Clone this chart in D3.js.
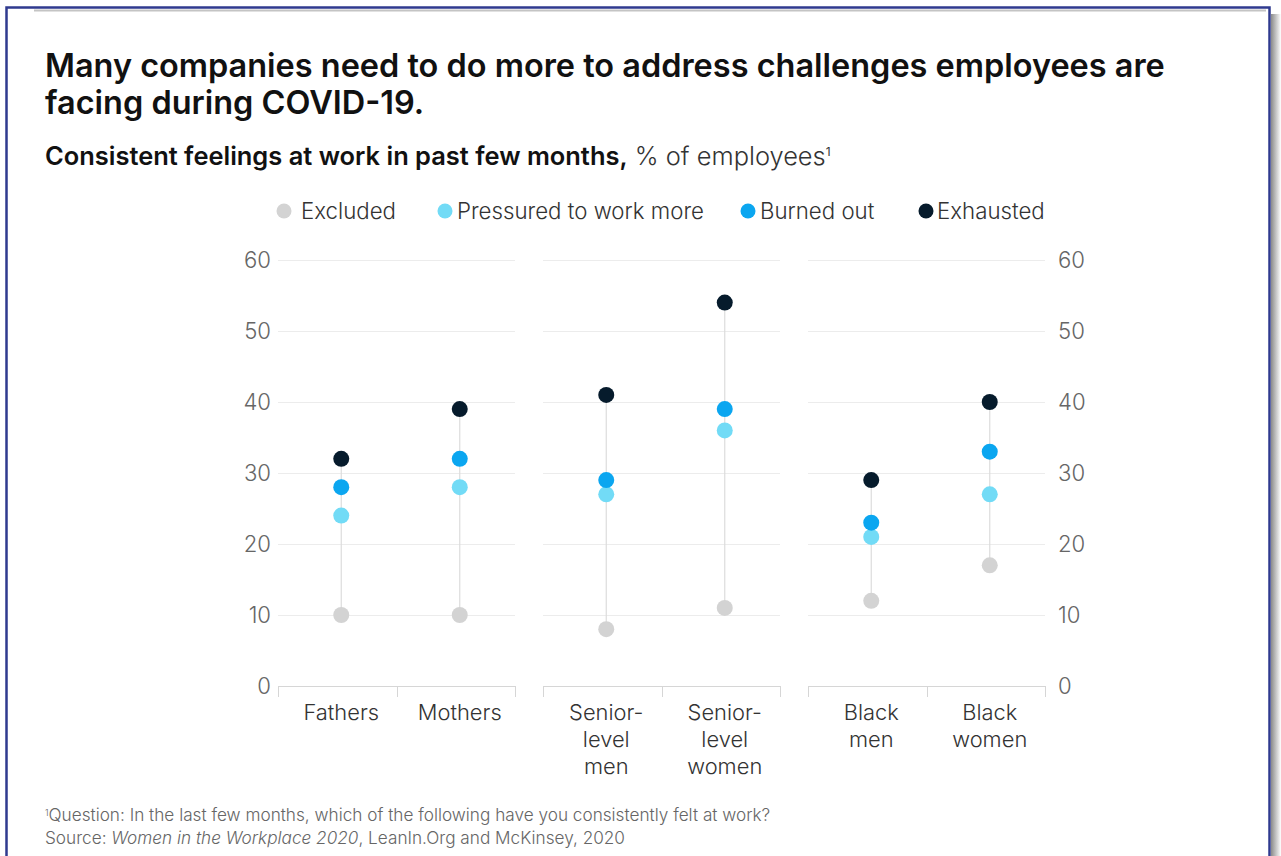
<!DOCTYPE html>
<html>
<head>
<meta charset="utf-8">
<script src="https://cdn.jsdelivr.net/npm/d3@7"></script>
<style>
  html, body { margin: 0; padding: 0; background: #fff; }
  svg { display: block; }
  text { font-family: Inter, "Liberation Sans", Arial, sans-serif; }
</style>
</head>
<body>
<svg id="chart" width="1281" height="856"></svg>
<script>
// Categories, grouped into three panels
const categories = ["Fathers", "Mothers", "Senior-level men", "Senior-level women", "Black men", "Black women"];
const categoryLines = [["Fathers"], ["Mothers"], ["Senior-", "level", "men"], ["Senior-", "level", "women"], ["Black", "men"], ["Black", "women"]];
const panels = [["Fathers", "Mothers"], ["Senior-level men", "Senior-level women"], ["Black men", "Black women"]];

// Series (% of employees)
const seriesNames = ["Excluded", "Pressured to work more", "Burned out", "Exhausted"];
const excluded  = [10, 10, 8, 11, 12, 17];
const pressured = [24, 28, 27, 36, 21, 27];
const burnedOut = [28, 32, 29, 39, 23, 33];
const exhausted = [32, 39, 41, 54, 29, 40];
const seriesValues = [excluded, pressured, burnedOut, exhausted];
const seriesColors = ["#d3d3d3", "#72dbf6", "#0ba6f0", "#061b2c"];

const yTicks = [0, 10, 20, 30, 40, 50, 60];

const svg = d3.select("#chart");

// Scale a text element's font so that it spans the given width
function fitSize(node, base, width) {
  const w = node.getComputedTextLength();
  return base * width / w;
}

// Frame
svg.append("line").attr("x1", 34).attr("x2", 1266).attr("y1", 10.5).attr("y2", 10.5)
  .attr("stroke", "#c4c4c4").attr("stroke-width", 2);
const grad = svg.append("defs").append("linearGradient").attr("id", "shadow")
  .attr("x1", "0").attr("x2", "1").attr("y1", "0").attr("y2", "0");
grad.append("stop").attr("offset", "0").attr("stop-color", "#8a8a8a");
grad.append("stop").attr("offset", "1").attr("stop-color", "#ffffff");
svg.append("rect").attr("x", 1271).attr("y", 14).attr("width", 10).attr("height", 842).attr("fill", "url(#shadow)");
svg.append("path").attr("d", "M6.5,856 V7.5 H1269.5 V856")
  .attr("fill", "none").attr("stroke", "#2f3a8f").attr("stroke-width", 2.5);

// Title
const title = svg.append("text").attr("x", 45).attr("y", 77)
  .attr("font-size", 28).attr("font-weight", 600).attr("fill", "#111");
const t1 = title.append("tspan").attr("x", 45).text("Many companies need to do more to address challenges employees are");
title.append("tspan").attr("x", 45).attr("dy", 37).text("facing during COVID-19.");
title.attr("font-size", fitSize(t1.node(), 28, 1120));

// Subtitle
const sub = svg.append("text").attr("x", 45).attr("y", 165).attr("font-size", 20).attr("fill", "#111");
const s1 = sub.append("tspan").attr("font-weight", 600).text("Consistent feelings at work in past few months,");
sub.append("tspan").attr("fill", "#333").attr("font-weight", 300).text(" % of employees");
sub.append("tspan").attr("fill", "#333").attr("font-size", 12).attr("dy", -9).text("1");
sub.attr("font-size", fitSize(s1.node(), 20, 583));

// Legend
const legendX = [284, 445, 748, 926];
const legendTextX = [17, 12, 12, 11];
const legend = svg.append("g").selectAll("g").data(seriesNames).join("g")
  .attr("transform", (d, i) => `translate(${legendX[i]},211)`);
legend.append("circle").attr("r", 7.5).attr("fill", (d, i) => seriesColors[i]);
const legendText = legend.append("text").attr("x", (d, i) => legendTextX[i]).attr("y", 7.5)
  .attr("font-size", 20).attr("font-weight", 300).attr("fill", "#333").text(d => d);
const legendSize = fitSize(legendText.nodes()[1], 20, 247);
legendText.attr("font-size", legendSize);

// Scales
const y = d3.scaleLinear().domain([0, 60]).range([686, 260]);
const px = d3.scaleBand().domain(d3.range(panels.length)).range([278, 1045]).paddingInner(28 / 265);

const xPos = {};
panels.forEach((cats, p) => {
  const x0 = px(p), x1 = x0 + px.bandwidth();
  const inner = d3.scaleBand().domain(cats).range([x0, x1]);
  cats.forEach(c => { xPos[c] = inner(c) + inner.bandwidth() / 2 + 4; });

  const g = svg.append("g");
  // gridlines
  g.selectAll("line.grid").data(yTicks.filter(t => t > 0)).join("line")
    .attr("x1", x0).attr("x2", x1)
    .attr("y1", d => y(d) + 0.5).attr("y2", d => y(d) + 0.5)
    .attr("stroke", "#ececec").attr("stroke-width", 1);
  // baseline with ticks
  g.append("line").attr("x1", x0).attr("x2", x1).attr("y1", y(0) + 0.5).attr("y2", y(0) + 0.5)
    .attr("stroke", "#d6d6d6");
  g.selectAll("line.tick").data([x0, (x0 + x1) / 2, x1]).join("line")
    .attr("x1", d => Math.round(d) + 0.5).attr("x2", d => Math.round(d) + 0.5)
    .attr("y1", y(0)).attr("y2", y(0) + 11).attr("stroke", "#d6d6d6");
});

// Y axes on both sides
const axisLeft = svg.append("g").attr("transform", "translate(271,0)")
  .call(d3.axisLeft(y).tickValues(yTicks).tickSize(0).tickPadding(0));
const axisRight = svg.append("g").attr("transform", "translate(1058,0)")
  .call(d3.axisRight(y).tickValues(yTicks).tickSize(0).tickPadding(0));
[axisLeft, axisRight].forEach(a => {
  a.select(".domain").remove();
  a.selectAll("text").attr("font-size", 20).attr("font-weight", 300).attr("fill", "#666")
    .attr("font-family", "Inter, Liberation Sans, Arial, sans-serif").attr("dy", "0.35em");
});
const axisSize = fitSize(axisLeft.selectAll("text").nodes()[6], 20, 27);
axisLeft.selectAll("text").attr("font-size", axisSize);
axisRight.selectAll("text").attr("font-size", axisSize);

// Connecting stems
const rows = categories.map((c, i) => ({ c, vals: seriesValues.map(s => s[i]) }));
svg.append("g").selectAll("line").data(rows).join("line")
  .attr("x1", d => xPos[d.c]).attr("x2", d => xPos[d.c])
  .attr("y1", d => y(d3.min(d.vals))).attr("y2", d => y(d3.max(d.vals)))
  .attr("stroke", "#dcdcdc").attr("stroke-width", 1.2);

// Dots
seriesValues.forEach((vals, s) => {
  svg.append("g").selectAll("circle").data(vals).join("circle")
    .attr("cx", (d, i) => xPos[categories[i]])
    .attr("cy", d => y(d))
    .attr("r", 8)
    .attr("fill", seriesColors[s]);
});

// Category labels
const catText = svg.append("g").selectAll("text").data(categories).join("text")
  .attr("x", d => xPos[d]).attr("y", 720).attr("text-anchor", "middle")
  .attr("font-size", 20).attr("font-weight", 300).attr("fill", "#333");
catText.each(function (d, i) {
  d3.select(this).selectAll("tspan").data(categoryLines[i]).join("tspan")
    .attr("x", xPos[d]).attr("dy", (l, j) => j === 0 ? 0 : 27).text(l => l);
});
catText.attr("font-size", fitSize(catText.nodes()[1], 20, 84));

// Footnote
const foot = svg.append("g").attr("font-size", 14).attr("font-weight", 300).attr("fill", "#666");
const f1 = foot.append("text").attr("x", 45).attr("y", 821);
f1.append("tspan").attr("font-size", 9).attr("dy", -5).text("1");
const f1b = f1.append("tspan").attr("dy", 5).text("Question: In the last few months, which of the following have you consistently felt at work?");
const f2 = foot.append("text").attr("x", 45).attr("y", 844);
f2.append("tspan").text("Source: ");
f2.append("tspan").attr("font-style", "italic").text("Women in the Workplace 2020");
f2.append("tspan").text(", LeanIn.Org and McKinsey, 2020");
foot.attr("font-size", fitSize(f1b.node(), 14, 722));
</script>
</body>
</html>
